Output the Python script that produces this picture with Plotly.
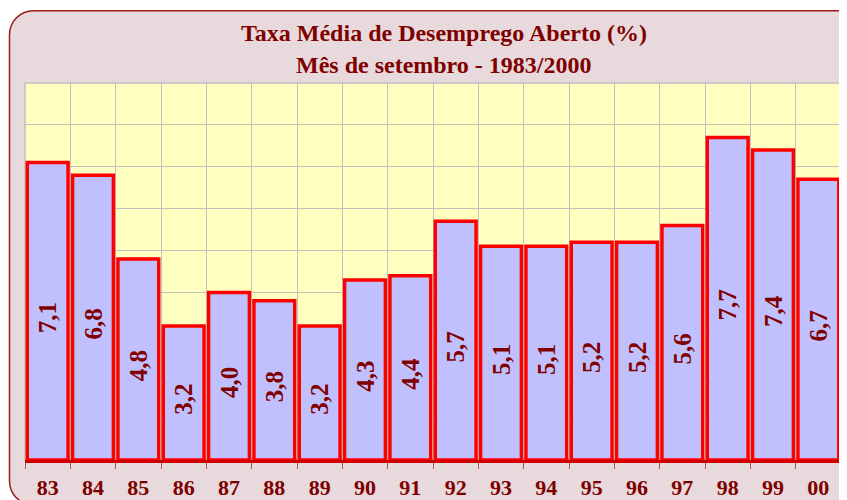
import plotly.graph_objects as go

categories = ["83", "84", "85", "86", "87", "88", "89", "90", "91",
              "92", "93", "94", "95", "96", "97", "98", "99", "00"]
values = [7.1, 6.8, 4.8, 3.2, 4.0, 3.8, 3.2, 4.3, 4.4,
          5.7, 5.1, 5.1, 5.2, 5.2, 5.6, 7.7, 7.4, 6.7]
title_lines = ["Taxa Média de Desemprego Aberto (%)", "Mês de setembro - 1983/2000"]

# value labels with Portuguese decimal comma (trailing nbsp nudges them like the original)
labels = [f"{v:.1f}".replace(".", ",") + "\u00a0\u00a0" for v in values]

W, H = 847, 500
ML, MR, MT, MB = 17, 14, 75, 48
PW = W - ML - MR
PH = H - MT - MB


def px(x):
    return (x - ML) / PW


def py(y):
    return (H - MB - y) / PH


def rounded_path(x0, y0, x1, y1, r):
    k = 0.5523 * r
    p = []
    p.append(f"M {px(x0 + r)},{py(y0)}")
    p.append(f"L {px(x1 - r)},{py(y0)}")
    p.append(f"C {px(x1 - r + k)},{py(y0)} {px(x1)},{py(y0 + r - k)} {px(x1)},{py(y0 + r)}")
    p.append(f"L {px(x1)},{py(y1 - r)}")
    p.append(f"C {px(x1)},{py(y1 - r + k)} {px(x1 - r + k)},{py(y1)} {px(x1 - r)},{py(y1)}")
    p.append(f"L {px(x0 + r)},{py(y1)}")
    p.append(f"C {px(x0 + r - k)},{py(y1)} {px(x0)},{py(y1 - r + k)} {px(x0)},{py(y1 - r)}")
    p.append(f"L {px(x0)},{py(y0 + r)}")
    p.append(f"C {px(x0)},{py(y0 + r - k)} {px(x0 + r - k)},{py(y0)} {px(x0 + r)},{py(y0)}")
    p.append("Z")
    return " ".join(p)


DARK = "#800000"
SERIF = "Liberation Serif, Times New Roman, serif"

fig = go.Figure(
    go.Bar(
        x=categories,
        y=values,
        text=labels,
        textposition="inside",
        insidetextanchor="middle",
        textangle=-90,
        constraintext="none",
        textfont=dict(family=SERIF, size=25, color=DARK, weight="bold"),
        marker=dict(color="#c0c0ff", line=dict(color="#ff0000", width=3.5)),
        hoverinfo="skip",
    )
)

shapes = [
    dict(type="path", xref="paper", yref="paper",
         path=rounded_path(1.5, 2.7, 852, 497, 24),
         fillcolor="#e7d9dc", line=dict(color="#9b1b1b", width=1.5), layer="below"),
    dict(type="rect", xref="paper", yref="paper", x0=0, x1=1, y0=0, y1=1,
         fillcolor="#ffffc0", line=dict(color="#c0c0c0", width=1.5), layer="below"),
]

annotations = [
    dict(text=f"<b>{title_lines[0]}</b>", xref="paper", yref="paper",
         x=px(436), y=py(25), xanchor="center", yanchor="middle", showarrow=False,
         font=dict(family=SERIF, size=24, color=DARK)),
    dict(text=f"<b>{title_lines[1]}</b>", xref="paper", yref="paper",
         x=px(436), y=py(57), xanchor="center", yanchor="middle", showarrow=False,
         font=dict(family=SERIF, size=24, color=DARK)),
]

fig.update_layout(
    width=W, height=H, autosize=False,
    margin=dict(l=ML, r=MR, t=MT, b=MB, pad=0, autoexpand=False),
    paper_bgcolor="white",
    plot_bgcolor="rgba(0,0,0,0)",
    bargap=0.1,
    showlegend=False,
    shapes=shapes,
    annotations=annotations,
    xaxis=dict(
        type="category",
        automargin=False,
        tickson="boundaries",
        ticks="outside", ticklen=6, tickcolor="#b05050", tickwidth=1,
        ticklabelstandoff=6,
        showgrid=True, gridcolor="#c0c0c0", gridwidth=1,
        showline=True, linecolor="#d00000", linewidth=2.5,
        tickfont=dict(family=SERIF, size=22, color=DARK, weight="bold"),
        fixedrange=True,
    ),
    yaxis=dict(
        range=[0, 9], dtick=1, tick0=0,
        automargin=False,
        showticklabels=False, ticks="",
        showgrid=True, gridcolor="#c0c0c0", gridwidth=1,
        zeroline=False, showline=False,
        fixedrange=True,
    ),
)

fig.write_html("out.html")
